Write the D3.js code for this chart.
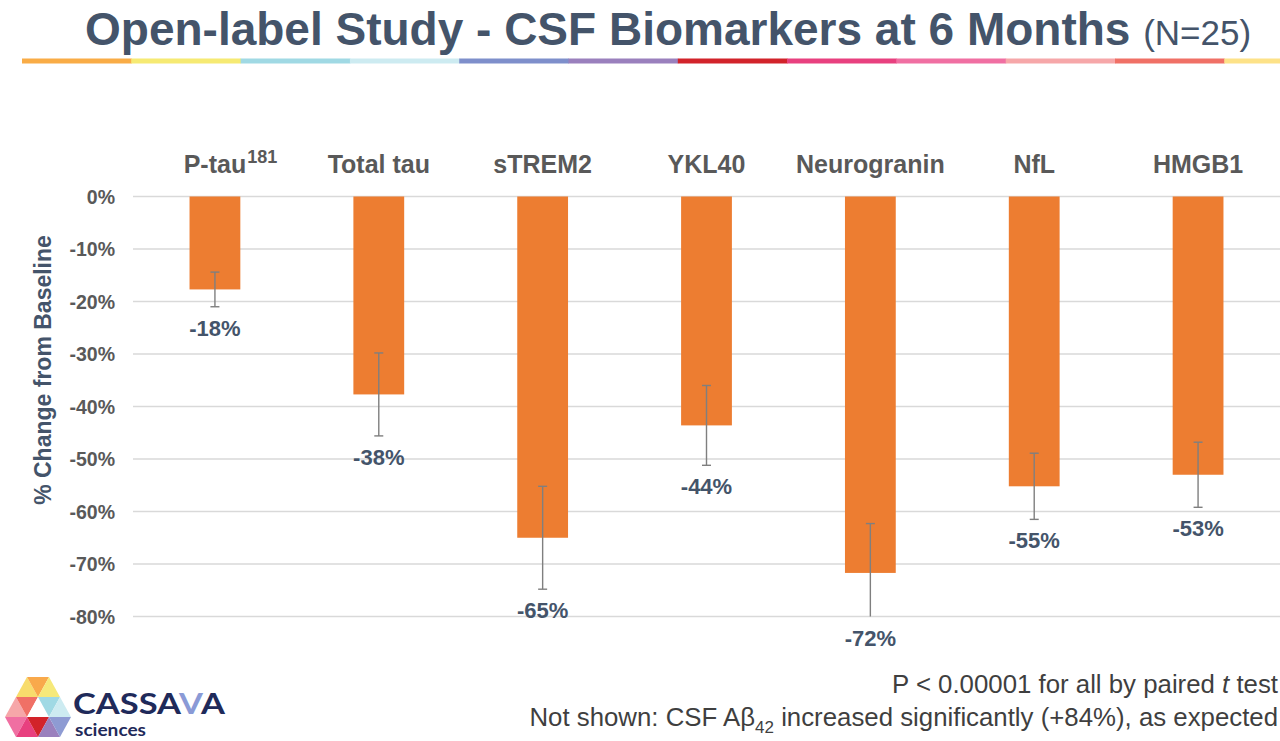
<!DOCTYPE html>
<html>
<head>
<meta charset="utf-8">
<script src="https://cdn.jsdelivr.net/npm/d3@7"></script>
<style>
  html, body { margin: 0; padding: 0; background: #ffffff; }
  svg { display: block; font-family: "Liberation Sans", Arial, sans-serif; }
</style>
</head>
<body>
<svg id="chart" width="1280" height="741"></svg>
<script>
// ---- data ----
const categories = ["P-tau", "Total tau", "sTREM2", "YKL40", "Neurogranin", "NfL", "HMGB1"];
const superscripts = ["181", "", "", "", "", "", ""];
const values = [-17.7, -37.7, -65.0, -43.6, -71.7, -55.2, -53.0];
const errors = [3.3, 7.9, 9.8, 7.6, 9.4, 6.3, 6.2];
const yTicks = [0, -10, -20, -30, -40, -50, -60, -70, -80];
const stripColors = ["#F9AC46", "#F6EA73", "#A0D9E4", "#CDEBF1", "#7E8FCB", "#9A80BD",
                     "#D2232A", "#E8407F", "#F06FA2", "#F6A7A9", "#F07066", "#FDE288"];

const pct = v => String(Math.round(v)) + "%";   // plain hyphen-minus

// ---- layout ----
const svg = d3.select("#chart");
const plotLeft = 133, plotRight = 1280;
const y = d3.scaleLinear().domain([0, -80]).range([196.5, 616.5]);
const x = d3.scaleBand().domain(categories).range([plotLeft, plotRight])
  .paddingInner(0.69).paddingOuter(0.345);

// ---- title ----
const title = svg.append("text")
  .attr("x", 85).attr("y", 45)
  .attr("fill", "#44546A")
  .style("font-size", "46px").style("font-weight", "bold");
title.append("tspan").text("Open-label Study - CSF Biomarkers at 6 Months ");
title.append("tspan").style("font-size", "35px").style("font-weight", "normal").text("(N=25)");

// color strip
const stripX = d3.scaleBand().domain(d3.range(stripColors.length)).range([22, 22 + 109.3 * 12]);
svg.append("g").selectAll("rect").data(stripColors).join("rect")
  .attr("x", (d, i) => stripX(i)).attr("y", 58.5)
  .attr("width", stripX.bandwidth() + 0.5).attr("height", 5)
  .attr("fill", d => d);

// ---- gridlines ----
svg.append("g").selectAll("line").data(yTicks).join("line")
  .attr("x1", plotLeft).attr("x2", plotRight)
  .attr("y1", d => y(d)).attr("y2", d => y(d))
  .attr("stroke", "#D9D9D9").attr("stroke-width", 1.4);

// y tick labels
svg.append("g").selectAll("text").data(yTicks).join("text")
  .attr("x", 115).attr("y", d => y(d) + 7)
  .attr("text-anchor", "end")
  .attr("fill", "#595959")
  .style("font-size", "19.5px").style("font-weight", "bold")
  .text(d => pct(d));

// y axis title
svg.append("text")
  .attr("transform", "translate(51,370) rotate(-90)")
  .attr("text-anchor", "middle")
  .attr("fill", "#44546A")
  .style("font-size", "23px").style("font-weight", "bold")
  .text("% Change from Baseline");

// ---- bars ----
const data = categories.map((c, i) => ({ c, v: values[i], e: errors[i], sup: superscripts[i] }));

svg.append("g").selectAll("rect").data(data).join("rect")
  .attr("x", d => x(d.c)).attr("width", x.bandwidth())
  .attr("y", y(0)).attr("height", d => y(d.v) - y(0))
  .attr("fill", "#ED7D31");

// error bars
const eg = svg.append("g").attr("stroke", "#7F7F7F").attr("stroke-width", 1.4);
const yMin = -80;
data.forEach(d => {
  const cx = x(d.c) + x.bandwidth() / 2;
  const hi = d.v + d.e;
  const lo = Math.max(d.v - d.e, yMin);
  eg.append("line").attr("x1", cx).attr("x2", cx).attr("y1", y(hi)).attr("y2", y(lo));
  eg.append("line").attr("x1", cx - 4.5).attr("x2", cx + 4.5).attr("y1", y(hi)).attr("y2", y(hi));
  if (d.v - d.e >= yMin) {
    eg.append("line").attr("x1", cx - 4.5).attr("x2", cx + 4.5).attr("y1", y(lo)).attr("y2", y(lo));
  }
});

// value labels
svg.append("g").selectAll("text").data(data).join("text")
  .attr("x", d => x(d.c) + x.bandwidth() / 2)
  .attr("y", d => y(Math.max(d.v - d.e, yMin)) + 29)
  .attr("text-anchor", "middle")
  .attr("fill", "#44546A")
  .style("font-size", "22px").style("font-weight", "bold")
  .text(d => pct(d.v));

// category labels
const cg = svg.append("g");
data.forEach(d => {
  const cx = x(d.c) + x.bandwidth() / 2;
  const t = cg.append("text")
    .attr("x", cx).attr("y", 173)
    .attr("text-anchor", "middle")
    .attr("fill", "#595959")
    .style("font-size", "25px").style("font-weight", "bold")
    .text(d.c);
  if (d.sup) {
    const w = t.node().getComputedTextLength();
    cg.append("text")
      .attr("x", cx + w / 2 + 1).attr("y", 163)
      .attr("fill", "#595959")
      .style("font-size", "18px").style("font-weight", "bold")
      .text(d.sup);
  }
});

// ---- footnotes ----
const f1 = svg.append("text")
  .attr("x", 1278).attr("y", 693).attr("text-anchor", "end")
  .attr("fill", "#3F3F3F").style("font-size", "25.8px");
f1.append("tspan").text("P < 0.00001 for all by paired ");
f1.append("tspan").style("font-style", "italic").text("t");
f1.append("tspan").text(" test");

const f2 = svg.append("text")
  .attr("x", 1278).attr("y", 726).attr("text-anchor", "end")
  .attr("fill", "#3F3F3F").style("font-size", "25.8px");
f2.append("tspan").text("Not shown: CSF A\u03B2");
f2.append("tspan").attr("dy", 7).style("font-size", "17px").text("42");
f2.append("tspan").attr("dy", -7).text(" increased significantly (+84%), as expected");

// ---- logo ----
const logo = svg.append("g");
const tris = [
  [[16,697],[27,677],[38,697],"#F8DC6C"],
  [[27,677],[49,677],[38,697],"#F9A94B"],
  [[38,697],[49,677],[60,697],"#F6E97A"],
  [[5,717],[16,697],[27,717],"#F6A7A9"],
  [[16,697],[38,697],[27,717],"#F07066"],
  [[27,717],[38,697],[49,717],"#FFFFFF"],
  [[38,697],[60,697],[49,717],"#A0D9E4"],
  [[49,717],[60,697],[71,717],"#CDEBF1"],
  [[5,717],[27,717],[16,737],"#F06FA2"],
  [[16,737],[27,717],[38,737],"#E8407F"],
  [[27,717],[49,717],[38,737],"#D2232A"],
  [[38,737],[49,717],[60,737],"#9A80BD"],
  [[49,717],[71,717],[60,737],"#8E9BD3"]
];
logo.selectAll("path").data(tris).join("path")
  .attr("d", t => "M" + t.slice(0,3).map(p => p.join(",")).join("L") + "Z")
  .attr("fill", t => t[3]);

const cas = logo.append("text")
  .attr("x", 73).attr("y", 714)
  .attr("textLength", 152).attr("lengthAdjust", "spacingAndGlyphs")
  .style("font-family", "Lato, 'Open Sans', sans-serif")
  .style("font-size", "28px").style("font-weight", "bold")
  .attr("fill", "#1F2A5A");
cas.append("tspan").text("CASSA");
cas.append("tspan").attr("fill", "#8A9AD6").text("V");
cas.append("tspan").text("A");

logo.append("text")
  .attr("x", 75).attr("y", 736)
  .attr("textLength", 71).attr("lengthAdjust", "spacingAndGlyphs")
  .style("font-family", "Lato, 'Open Sans', sans-serif")
  .style("font-size", "17px").style("font-weight", "bold")
  .attr("fill", "#1F2A5A")
  .text("sciences");
</script>
</body>
</html>
